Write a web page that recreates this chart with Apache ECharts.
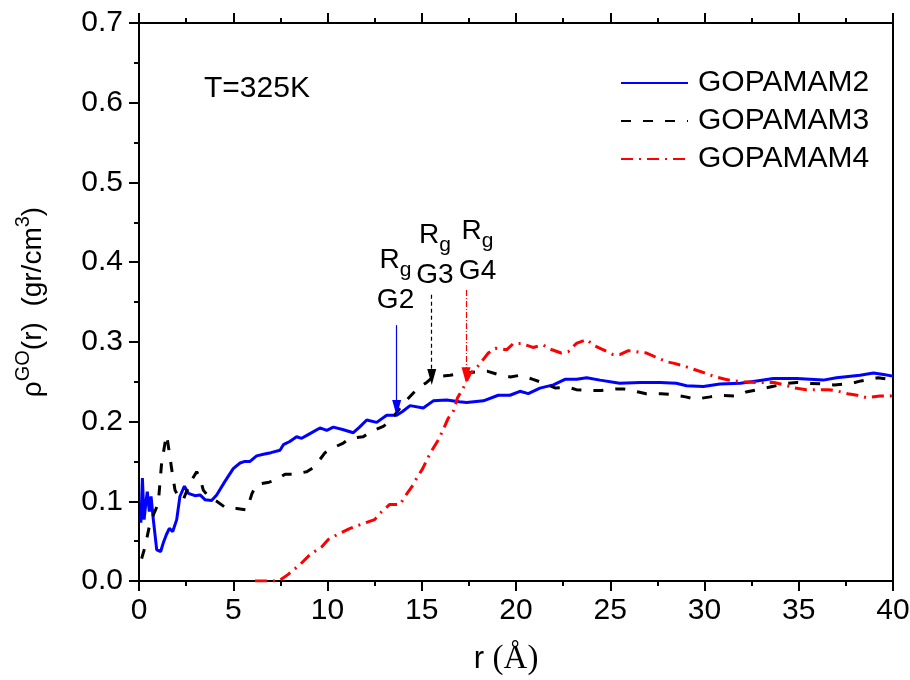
<!DOCTYPE html>
<html>
<head>
<meta charset="utf-8">
<script src="https://cdn.jsdelivr.net/npm/echarts@6/dist/echarts.min.js"></script>
<style>
html,body{margin:0;padding:0;background:#fff}
#chart{width:910px;height:680px}
</style>
</head>
<body>
<div id="chart"></div>
<script>
var FONT = "'Liberation Sans', Arial, sans-serif";

// GOPAMAM2 (blue, solid)
var r2 = [0.1, 0.18, 0.27, 0.35, 0.44, 0.55, 0.64, 0.76, 0.94, 1.15, 1.29, 1.45, 1.61, 1.79, 2.0, 2.17, 2.41, 2.62, 2.97, 3.24, 3.5, 3.85, 4.12, 4.56, 5.0, 5.36, 5.62, 5.89, 6.24, 6.6, 7.0, 7.48, 7.66, 8.0, 8.36, 8.63, 9.0, 9.6, 9.96, 10.31, 10.8, 11.37, 11.7, 12.08, 12.61, 13.14, 13.67, 14.0, 14.38, 15.08, 15.61, 16.32, 17.0, 17.38, 18.27, 19.06, 19.68, 20.21, 20.65, 21.27, 21.98, 22.6, 23.22, 23.75, 24.46, 25.5, 26.6, 27.64, 28.5, 29.05, 29.94, 30.82, 31.9, 32.77, 33.65, 34.89, 36.3, 37.0, 38.25, 38.96, 39.5, 40];
var g2 = [0.073, 0.129, 0.077, 0.095, 0.112, 0.087, 0.106, 0.077, 0.039, 0.037, 0.048, 0.058, 0.066, 0.062, 0.077, 0.106, 0.119, 0.110, 0.107, 0.108, 0.102, 0.101, 0.108, 0.125, 0.141, 0.148, 0.150, 0.150, 0.157, 0.159, 0.161, 0.164, 0.171, 0.175, 0.181, 0.179, 0.184, 0.192, 0.189, 0.193, 0.190, 0.186, 0.193, 0.202, 0.199, 0.208, 0.208, 0.213, 0.220, 0.217, 0.226, 0.227, 0.225, 0.224, 0.226, 0.233, 0.233, 0.238, 0.235, 0.242, 0.246, 0.253, 0.253, 0.255, 0.252, 0.248, 0.249, 0.249, 0.248, 0.245, 0.244, 0.247, 0.248, 0.251, 0.254, 0.254, 0.252, 0.255, 0.258, 0.261, 0.259, 0.257];

// GOPAMAM3 (black, dashed)
var r3 = [0.14, 0.32, 0.58, 0.8, 1.02, 1.2, 1.38, 1.47, 1.64, 1.73, 1.91, 2.18, 2.35, 2.7, 3.06, 3.24, 3.41, 3.68, 4.12, 4.65, 5.18, 5.71, 6.0, 6.24, 6.9, 7.3, 7.75, 8.2, 8.9, 9.3, 9.87, 10.2, 10.84, 11.2, 11.9, 12.25, 12.96, 13.3, 13.85, 14.2, 14.8, 15.2, 15.6, 16.0, 16.5, 17.0, 17.4, 18.1, 18.5, 19.2, 19.7, 20.2, 20.9, 21.5, 22.1, 22.8, 23.2, 24.0, 24.5, 25.3, 25.7, 26.5, 26.9, 27.7, 28.2, 29.0, 29.5, 30.3, 30.8, 31.7, 32.2, 33.0, 33.6, 34.4, 34.9, 35.5, 36.4, 36.9, 37.8, 38.3, 39.2, 39.8, 40];
var g3 = [0.028, 0.043, 0.072, 0.085, 0.097, 0.148, 0.173, 0.183, 0.156, 0.141, 0.114, 0.102, 0.102, 0.123, 0.137, 0.129, 0.114, 0.106, 0.100, 0.091, 0.091, 0.089, 0.110, 0.121, 0.124, 0.127, 0.134, 0.134, 0.137, 0.143, 0.161, 0.166, 0.173, 0.179, 0.181, 0.187, 0.194, 0.200, 0.217, 0.227, 0.242, 0.248, 0.256, 0.257, 0.258, 0.260, 0.261, 0.263, 0.263, 0.258, 0.256, 0.258, 0.253, 0.248, 0.242, 0.243, 0.240, 0.239, 0.239, 0.241, 0.241, 0.237, 0.235, 0.235, 0.234, 0.231, 0.228, 0.231, 0.233, 0.232, 0.237, 0.241, 0.244, 0.248, 0.249, 0.248, 0.247, 0.246, 0.248, 0.251, 0.255, 0.253, 0.252];

// GOPAMAM4 (red, dash-dot)
var r4 = [6.15, 6.85, 7.4, 7.9, 8.6, 9.07, 9.7, 10.04, 10.5, 11.2, 11.9, 12.5, 12.87, 13.3, 13.85, 14.1, 14.47, 14.73, 15.05, 15.44, 15.88, 16.14, 16.4, 16.7, 16.9, 17.2, 17.56, 18.0, 18.53, 18.9, 19.5, 19.86, 20.3, 20.9, 21.45, 21.8, 22.4, 22.78, 23.2, 23.75, 24.1, 24.55, 25.16, 25.5, 25.96, 26.58, 26.93, 27.4, 28.0, 28.4, 29.0, 29.5, 30.0, 30.6, 31.1, 31.53, 32.1, 32.7, 33.2, 33.7, 34.4, 34.8, 35.4, 36.0, 36.6, 37.1, 37.6, 38.1, 38.6, 39.3, 39.84, 40];
var g4 = [0.0, 0.0, 0.0, 0.008, 0.022, 0.033, 0.043, 0.052, 0.058, 0.066, 0.072, 0.077, 0.087, 0.096, 0.096, 0.106, 0.118, 0.129, 0.141, 0.160, 0.177, 0.190, 0.204, 0.214, 0.230, 0.242, 0.260, 0.270, 0.286, 0.292, 0.290, 0.298, 0.298, 0.293, 0.296, 0.291, 0.286, 0.288, 0.298, 0.303, 0.296, 0.291, 0.284, 0.284, 0.289, 0.287, 0.286, 0.281, 0.275, 0.273, 0.269, 0.265, 0.261, 0.256, 0.253, 0.251, 0.250, 0.249, 0.249, 0.249, 0.245, 0.242, 0.240, 0.240, 0.240, 0.238, 0.235, 0.233, 0.230, 0.232, 0.232, 0.233];

var seriesNames = ['GOPAMAM2', 'GOPAMAM3', 'GOPAMAM4'];

// Rg arrows: x position, arrow start y, arrow tip y
var rgX = [13.67, 15.53, 17.35];
var rgFrom = [0.321, 0.359, 0.365];
var rgTo = [0.217, 0.256, 0.258];
// Rg labels: centre of the two-line label
var rgLabelX = [13.61, 15.70, 17.96];
var rgLabelY = [0.377, 0.408, 0.4135];
var rgLabelText = ['G2', 'G3', 'G4'];

function pairs(xs, ys) {
  var out = [];
  for (var i = 0; i < xs.length; i++) out.push([xs[i], ys[i]]);
  return out;
}

var ARROW = 'path://M4.5,0 L9,16 L0,16 Z';

function rgMarks(i, color, dash) {
  return {
    markLine: {
      silent: true,
      animation: false,
      symbol: ['none', ARROW],
      symbolSize: 16,
      symbolKeepAspect: true,
      label: { show: false },
      lineStyle: { color: color, width: 1.2, type: dash },
      itemStyle: { color: color },
      data: [[{ coord: [rgX[i], rgFrom[i]] }, { coord: [rgX[i], rgTo[i]] }]]
    },
    markPoint: {
      silent: true,
      animation: false,
      symbol: 'circle',
      symbolSize: 0,
      itemStyle: { color: 'rgba(0,0,0,0)' },
      label: {
        show: true,
        position: 'inside',
        color: '#000',
        fontFamily: FONT,
        formatter: '{a|R}{sub|g}\n{a|' + rgLabelText[i] + '}',
        rich: {
          a: { fontSize: 28, lineHeight: 40, color: '#000', fontFamily: FONT },
          sub: { fontSize: 21, lineHeight: 28, verticalAlign: 'bottom', color: '#000', fontFamily: FONT }
        }
      },
      data: [{ coord: [rgLabelX[i], rgLabelY[i]] }]
    }
  };
}

var axisLineStyle = { color: '#000', width: 2 };

function xAxisDef(pos, labels) {
  return {
    type: 'value', position: pos, min: 0, max: 40, interval: 5,
    axisLine: { show: true, onZero: false, lineStyle: axisLineStyle },
    axisTick: { show: true, inside: false, length: 10, lineStyle: axisLineStyle },
    minorTick: { show: true, splitNumber: 2, length: 5, lineStyle: axisLineStyle },
    splitLine: { show: false },
    minorSplitLine: { show: false },
    axisLabel: { show: labels, fontSize: 30, color: '#000', fontFamily: FONT, margin: 15 }
  };
}

var chart = echarts.init(document.getElementById('chart'));
var s2 = {
  name: seriesNames[0], type: 'line', data: pairs(r2, g2), symbol: 'none', z: 3,
  lineStyle: { color: '#0000ff', width: 3 }, itemStyle: { color: '#0000ff' }
};
var s3 = {
  name: seriesNames[1], type: 'line', data: pairs(r3, g3), symbol: 'none', z: 4,
  lineStyle: { color: '#000', width: 3, type: [10, 12] }, itemStyle: { color: '#000' }
};
var s4 = {
  name: seriesNames[2], type: 'line', data: pairs(r4, g4), symbol: 'none', z: 5,
  lineStyle: { color: '#ff0000', width: 3, type: [12, 6, 2, 6] }, itemStyle: { color: '#ff0000' }
};
Object.assign(s2, rgMarks(0, '#0000ff', 'solid'));
Object.assign(s3, rgMarks(1, '#000', [4, 3]));
Object.assign(s4, rgMarks(2, '#ff0000', [6, 2, 1, 2]));

var option = {
  animation: false,
  backgroundColor: '#fff',
  grid: { left: 139, right: 17, top: 23, bottom: 99, containLabel: false, outerBoundsMode: 'none' },
  legend: {
    orient: 'vertical', left: 620, top: 68, padding: 0,
    itemWidth: 67, itemHeight: 14, itemGap: 8,
    data: seriesNames,
    itemStyle: { color: 'rgba(0,0,0,0)', borderWidth: 0, opacity: 0 },
    textStyle: { fontSize: 30, lineHeight: 30, color: '#000', fontFamily: FONT, padding: [0, 0, 0, 5] }
  },
  xAxis: [
    Object.assign(xAxisDef('bottom', true), {
      name: '{a|r }{b|(Å)}', nameLocation: 'middle', nameGap: 62,
      nameTextStyle: {
        padding: [0, 20, 0, 0],
        rich: {
          a: { fontSize: 31, color: '#000', fontFamily: FONT },
          b: { fontSize: 33, color: '#000', fontFamily: "'Liberation Serif', 'Times New Roman', serif" }
        }
      }
    }),
    xAxisDef('top', false)
  ],
  yAxis: [
    {
      type: 'value', position: 'left', min: 0, max: 0.7, interval: 0.1,
      axisLine: { show: true, onZero: false, lineStyle: axisLineStyle },
      axisTick: { show: true, inside: false, length: 10, lineStyle: axisLineStyle },
      minorTick: { show: true, splitNumber: 2, length: 5, lineStyle: axisLineStyle },
      splitLine: { show: false },
      axisLabel: { fontSize: 30, color: '#000', fontFamily: FONT, margin: 16, formatter: function (v) { return v.toFixed(1); } },
      name: '{a|ρ}{sup|GO}{a|(r)  (gr/cm}{sup|3}{a|)}',
      nameLocation: 'middle', nameGap: 86,
      nameTextStyle: {
        rich: {
          a: { fontSize: 28, lineHeight: 40, color: '#000', fontFamily: FONT },
          sup: { fontSize: 20, lineHeight: 26, verticalAlign: 'top', color: '#000', fontFamily: FONT }
        }
      }
    },
    {
      type: 'value', position: 'right', min: 0, max: 0.7, interval: 0.1,
      axisLine: { show: true, onZero: false, lineStyle: axisLineStyle },
      axisTick: { show: false },
      splitLine: { show: false },
      axisLabel: { show: false }
    }
  ],
  graphic: [{
    type: 'text', left: 204, top: 74,
    style: { text: 'T=325K', fontSize: 30, fill: '#000', fontFamily: FONT }
  }],
  series: [s2, s3, s4]
};
chart.setOption(option);
</script>
</body>
</html>
